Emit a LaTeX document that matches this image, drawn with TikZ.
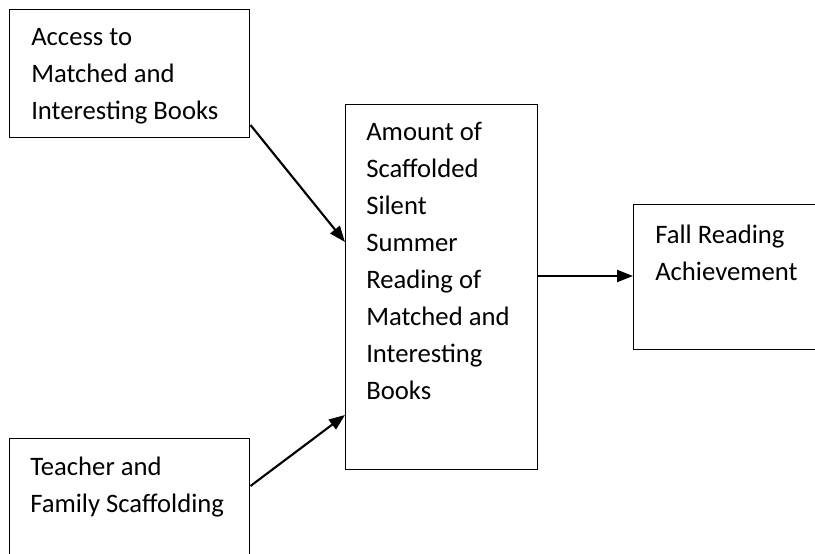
\documentclass[tikz,border=0pt]{standalone}
\usepackage{fontspec}
\setmainfont{Carlito}
\usetikzlibrary{arrows.meta}
\tikzset{
  box/.style={draw=black, line width=1.1pt, fill=none, inner sep=0pt, anchor=north west},
  label/.style={anchor=base west, align=left, inner sep=0pt, font=\fontsize{20}{27.75}\selectfont},
  arr/.style={draw=black, line width=1.6pt, -{Triangle[length=12pt, width=9pt]}, shorten >=0pt}
}
\begin{document}
\begin{tikzpicture}[x=0.75pt, y=-0.75pt]
\useasboundingbox (0,0) rectangle (815,554);
\clip (0,0) rectangle (815,554);
\node[box, minimum width=180pt, minimum height=96pt] (b1) at (9,9) {};
\node[box, minimum width=144pt, minimum height=273.75pt] (b2) at (345,104) {};
\node[box, minimum width=150pt, minimum height=108.75pt] (b3) at (633,204) {};
\node[box, minimum width=180pt, minimum height=110pt] (b4) at (9,438) {};
% base anchor of a multi-line node is its last line
\node[label] (t1) at (31,119) {Access to\\Matched and\\Interesting Books};
\node[label] (t2) at (366,399) {Amount of\\Scaffolded\\Silent\\Summer\\Reading of\\Matched and\\Interesting\\Books};
\node[label] (t3) at (655,280) {Fall Reading\\Achievement};
\node[label] (t4) at (30,512) {Teacher and\\Family Scaffolding};
\coordinate (s1) at (b1.east |- 0,125);
\coordinate (e1) at (b2.west |- 0,242);
\coordinate (s2) at (b4.east |- 0,486);
\coordinate (e2) at (b2.west |- 0,415);
\coordinate (s3) at (b2.east |- 0,276);
\coordinate (e3) at (b3.west |- 0,276);
\draw[arr] (s1) -- (e1);
\draw[arr] (s2) -- (e2);
\draw[arr] (s3) -- (e3);
\end{tikzpicture}
\end{document}
